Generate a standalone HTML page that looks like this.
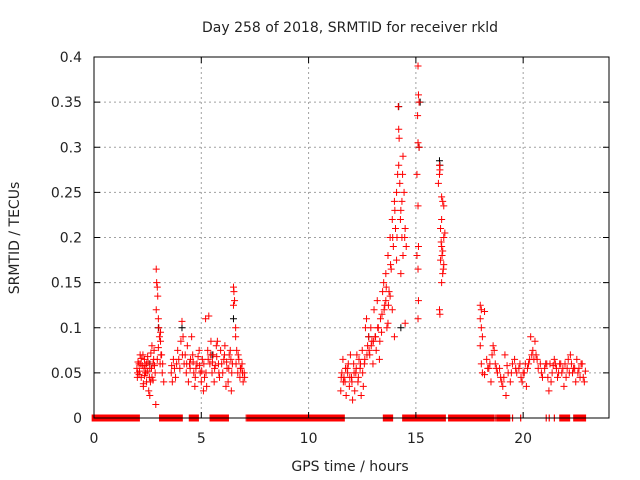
<!DOCTYPE html>
<html><head><meta charset="utf-8"><style>
html,body{margin:0;padding:0;background:#fff}
svg{display:block;font-family:"DejaVu Sans","Liberation Sans",sans-serif}
</style></head><body>
<svg id="chart" width="640" height="480" viewBox="0 0 640 480" xmlns="http://www.w3.org/2000/svg">
<rect width="640" height="480" fill="#fff"/>
<text x="350" y="32" font-size="14" text-anchor="middle" fill="#222">Day 258 of 2018, SRMTID for receiver rkld</text>
<text x="350" y="471" font-size="14" text-anchor="middle" fill="#222">GPS time / hours</text>
<text x="0" y="0" font-size="14" text-anchor="middle" fill="#222" transform="translate(19,238) rotate(-90)">SRMTID / TECUs</text>
<g id="grid"></g>
<g id="marks"></g>
<g id="axes"></g>
</svg>
<script>
const xTicks=[0,5,10,15,20];
const yTicks=[0,0.05,0.1,0.15,0.2,0.25,0.3,0.35,0.4];
const yTickLabels=["0","0.05","0.1","0.15","0.2","0.25","0.3","0.35","0.4"];
const zeroStart=[0.03,3.17,3.87,4.44,4.49,4.57,5.41,5.47,5.53,5.78,7.09,7.15,7.27,13.49,13.6,14.5,15.25,16.64,18.23,18.57,18.64,18.72,18.8,18.86,18.9,19.07,19.5,19.88,21.07,21.21,21.45,21.82,22.47,22.9];
const zeroEnd=[2.0,3.67,4.0,4.44,4.49,4.75,5.41,5.47,5.6,6.15,7.09,7.15,11.55,13.49,13.8,15.18,16.26,18.07,18.5,18.57,18.64,18.72,18.8,18.86,19.0,19.26,19.5,19.88,21.07,21.21,21.45,22.05,22.76,22.9];
const redHours=[2.0,2.05,2.1,2.15,2.2,2.25,2.3,2.35,2.4,2.45,2.5,2.55,2.6,2.65,2.7,2.75,2.8,2.85,2.9,2.92,2.95,2.97,2.9,3.0,3.02,3.05,3.1,3.15,3.2,3.25,2.88,2.6,2.3,2.1,2.7,3.0,3.1,2.5,2.35,2.2,2.45,2.75,3.18,2.95,
2.02,2.12,2.18,2.28,2.38,2.42,2.52,2.58,2.68,2.78,2.82,3.08,3.12,2.03,2.33,2.63,
3.6,3.7,3.8,3.9,4.0,4.05,4.1,4.15,4.2,4.3,4.35,4.4,4.5,4.55,4.6,4.65,4.7,4.8,4.9,4.95,5.0,5.05,5.1,5.15,5.2,5.3,5.35,5.4,5.45,5.5,5.55,5.6,5.7,5.75,5.8,5.9,6.0,6.05,6.1,6.2,6.25,6.3,6.4,6.45,6.5,6.52,6.55,6.5,6.6,6.6,6.65,6.7,6.75,6.8,6.85,6.9,6.95,7.0,3.65,4.25,4.75,5.25,5.85,6.35,4.45,5.65,6.15,3.85,
3.62,3.75,3.95,4.12,4.32,4.48,4.62,4.72,4.85,4.92,5.02,5.12,5.22,5.32,5.42,5.52,5.62,5.72,5.82,5.95,6.08,6.18,6.28,6.38,6.42,6.62,6.72,6.82,6.92,7.02,
11.5,11.55,11.6,11.7,11.75,11.8,11.9,11.95,12.0,12.05,12.1,12.15,12.2,12.3,12.35,12.4,12.5,12.55,12.6,12.65,12.7,12.75,12.8,12.85,12.9,12.95,11.65,12.25,12.45,11.85,
11.52,11.62,11.72,11.82,11.92,12.02,12.12,12.22,12.32,12.42,12.52,12.62,12.72,12.82,12.92,
13.0,13.05,13.1,13.15,13.2,13.25,13.3,13.35,13.4,13.45,13.5,13.55,13.6,13.65,13.7,13.75,13.8,13.85,13.9,13.95,14.0,14.05,14.1,14.15,14.18,14.2,14.22,14.2,14.25,14.3,14.35,14.4,14.45,14.5,14.55,14.3,14.4,14.1,13.9,14.0,13.8,14.5,14.35,13.6,13.7,
13.02,13.12,13.22,13.32,13.42,13.52,13.62,13.72,13.82,13.92,14.02,14.12,14.28,14.38,14.48,
15.1,15.12,15.15,15.08,15.1,15.15,15.05,15.1,15.12,15.05,15.1,15.12,15.1,
16.1,16.12,16.1,16.05,16.2,16.25,16.3,16.2,16.15,16.35,16.3,16.2,16.25,16.15,16.3,16.25,16.2,16.1,16.12,16.22,16.28,16.18,
18.0,18.05,18.0,18.05,18.1,18.2,18.0,18.05,18.1,18.2,18.3,18.4,18.5,18.55,18.6,18.65,18.7,18.8,18.9,19.0,19.05,19.1,19.2,19.3,19.4,19.5,19.6,19.7,19.8,19.9,19.95,20.0,20.1,20.15,20.2,20.3,20.35,20.45,20.5,20.6,20.7,20.8,20.9,21.0,21.1,21.2,21.3,21.35,21.45,21.55,21.6,21.7,21.8,21.9,22.0,22.1,22.2,22.3,22.35,22.45,22.5,22.6,22.7,22.8,22.85,21.75,20.55,19.15,18.35,21.25,22.05,
18.45,18.75,18.95,19.25,19.45,19.65,19.85,20.05,20.25,20.4,20.65,20.85,21.05,21.15,21.4,21.5,21.65,21.85,21.95,22.15,22.25,22.4,22.55,22.65,22.75,22.9];
const redValues=[.055,.062,.048,.07,.045,.058,.035,.065,.05,.04,.068,.03,.055,.072,.045,.06,.075,.05,.165,.15,.145,.135,.12,.11,.1,.09,.085,.07,.06,.04,.015,.025,.038,.06,.08,.078,.095,.052,.047,.066,.06,.042,.05,.065,
.045,.052,.06,.07,.058,.05,.062,.045,.055,.065,.058,.06,.07,.05,.055,.04,
.05,.065,.045,.075,.055,.085,.107,.09,.06,.05,.08,.04,.065,.09,.07,.05,.035,.06,.075,.05,.04,.065,.03,.045,.11,.075,.113,.06,.085,.05,.07,.04,.08,.085,.06,.075,.05,.065,.08,.055,.04,.07,.03,.06,.145,.14,.13,.125,.1,.09,.075,.05,.065,.045,.055,.06,.04,.05,.04,.07,.055,.035,.045,.075,.06,.058,.035,.06,
.058,.055,.065,.07,.06,.055,.062,.045,.068,.058,.052,.06,.05,.065,.07,.062,.055,.068,.05,.06,.07,.062,.055,.065,.05,.06,.07,.055,.05,.045,
.03,.05,.065,.04,.025,.055,.035,.07,.045,.02,.06,.03,.05,.04,.065,.055,.075,.035,.06,.1,.11,.08,.09,.07,.1,.085,.045,.07,.025,.06,
.045,.04,.055,.05,.045,.04,.05,.055,.045,.06,.05,.065,.07,.075,.08,
.06,.12,.09,.075,.13,.1,.065,.11,.095,.14,.15,.125,.16,.1,.18,.14,.2,.165,.22,.19,.24,.21,.25,.27,.345,.32,.31,.28,.26,.23,.2,.29,.25,.21,.19,.16,.18,.175,.12,.09,.135,.105,.24,.13,.105,
.085,.09,.1,.085,.115,.12,.145,.125,.17,.2,.23,.2,.22,.27,.2,
.39,.358,.35,.335,.305,.3,.27,.235,.19,.18,.165,.13,.11,
.28,.275,.27,.26,.245,.24,.235,.22,.21,.205,.2,.19,.185,.175,.17,.16,.15,.12,.115,.18,.165,.195,
.125,.12,.11,.1,.09,.118,.08,.06,.05,.048,.065,.055,.04,.07,.08,.075,.06,.05,.055,.04,.035,.045,.025,.05,.04,.06,.065,.05,.055,.045,.04,.05,.06,.035,.055,.065,.09,.075,.065,.07,.055,.06,.045,.055,.06,.03,.04,.05,.065,.055,.045,.06,.05,.035,.045,.065,.07,.05,.055,.04,.065,.055,.06,.045,.04,.06,.085,.07,.055,.06,.055,
.06,.055,.045,.058,.05,.055,.06,.05,.06,.07,.065,.05,.06,.045,.058,.06,.05,.055,.06,.05,.06,.055,.05,.045,.06,.052];
const blackHours=[14.2,15.2,16.1,16.12,6.5,3.0,4.1,15.15,14.3,12.8,5.5,2.6];
const blackValues=[.345,.35,.285,.28,.11,.1,.1,.3,.1,.09,.07,.06];

const L=94,R=609,T=57,B=418,XMAX=24,YMAX=0.4;
const NS="http://www.w3.org/2000/svg";
function xs(h){return L+(R-L)*h/XMAX;}
function ys(v){return B-(B-T)*v/YMAX;}
function mk(tag,attrs,parent){const e=document.createElementNS(NS,tag);for(const k in attrs)e.setAttribute(k,attrs[k]);parent.appendChild(e);return e;}
const grid=document.getElementById('grid'),marks=document.getElementById('marks'),axes=document.getElementById('axes');
xTicks.forEach((t,i)=>{
  const x=xs(t);
  if(t>0){const g=mk('line',{x1:x,x2:x,y1:T,y2:B,stroke:'#a0a0a0','stroke-dasharray':'2,3'},grid);
  
  }
  const tk=mk('path',{d:`M${x},${B}v-6M${x},${T}v6`,stroke:'#000'},axes);
  
  
  const lb=mk('text',{x:x,y:443,'font-size':14,'text-anchor':'middle',fill:'#222'},axes);
  lb.textContent=String(t);
  
  
});
yTicks.forEach((t,i)=>{
  const y=ys(t);
  if(t>0&&t<YMAX){const g=mk('line',{x1:L,x2:R,y1:y,y2:y,stroke:'#a0a0a0','stroke-dasharray':'2,3'},grid);
  
  }
  const tk=mk('path',{d:`M${L},${y}h6M${R},${y}h-6`,stroke:'#000'},axes);
  
  
  const lb=mk('text',{x:82,y:y+5,'font-size':14,'text-anchor':'end',fill:'#222'},axes);
  lb.textContent=yTickLabels[i];
  
  
});
const frame=mk('rect',{x:L,y:T,width:R-L,height:B-T,fill:'none',stroke:'#000'},axes);


function plus(h,v,color,name){
  const x=xs(h),y=ys(v);
  const p=mk('path',{d:`M${x-3.5},${y}h7M${x},${y-3.5}v7`,stroke:color,'stroke-width':1,fill:'none'},marks);
  
  
}
blackHours.forEach((h,i)=>plus(h,blackValues[i],'#000','black-point'));
redHours.forEach((h,i)=>plus(h,redValues[i],'#ff0000','red-point'));
zeroStart.forEach((s,i)=>{
  const x1=xs(s),x2=xs(zeroEnd[i]);
  let r;
  if(zeroEnd[i]-s<0.02){r=mk('rect',{x:x1-0.5,y:B-3.5,width:1.2,height:7,fill:'#ff0000'},marks);}
  else{r=mk('rect',{x:x1-3,y:B-3.5,width:x2-x1+6,height:7,fill:'#ff0000'},marks);}
  
  
});
const bl=mk('line',{x1:L,x2:R,y1:B,y2:B,stroke:'#000'},axes);


</script>
</body></html>
